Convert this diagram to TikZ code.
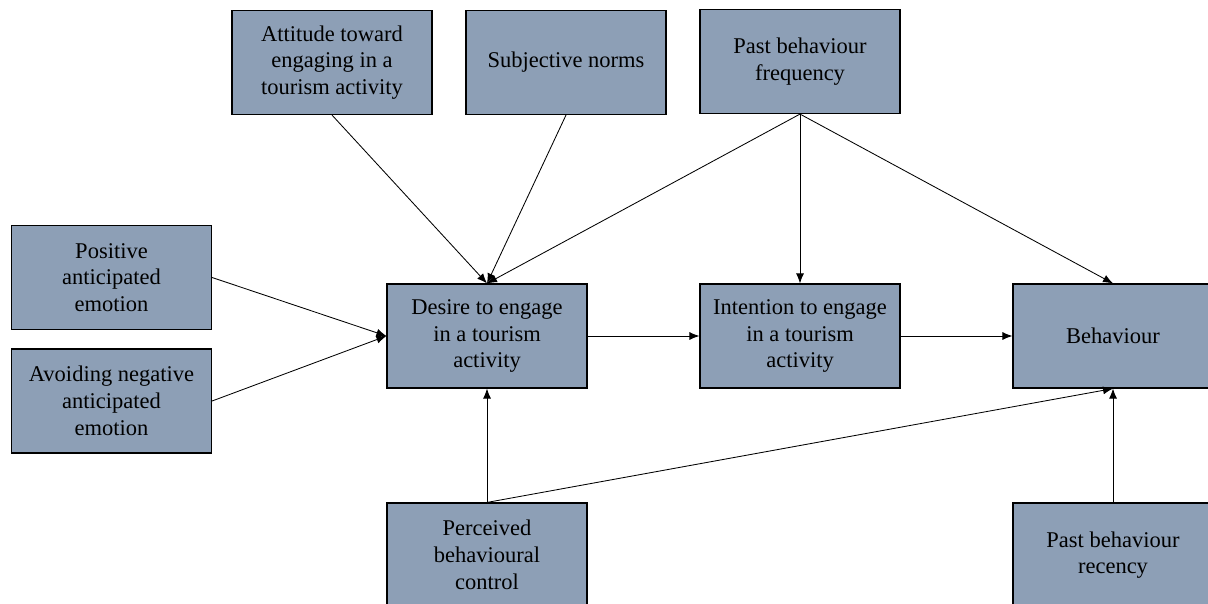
\documentclass[tikz,border=0pt]{standalone}
\usepackage{fontspec}
\setmainfont{Liberation Serif}
\usetikzlibrary{arrows.meta}
\definecolor{boxfill}{RGB}{141,159,182}

\begin{document}
\begin{tikzpicture}[x=0.025cm,y=-0.025cm,
	box/.style={draw=black,line width=0.8pt,fill=boxfill,minimum width=5cm,minimum height=2.6cm,align=center,font=\fontsize{16}{19}\selectfont},
	arr/.style={line width=0.6pt,-{Latex[length=2.5mm,width=2mm]}}]
	\clip (0,0) rectangle (1208,604);
	\node[box] (attitude) at (332,62.5) {Attitude toward\\engaging in a\\tourism activity};
	\node[box] (norms) at (566,62.5) {Subjective norms};
	\node[box] (freq) at (800,61.5) {Past behaviour\\frequency};
	\node[box] (positive) at (111.5,277.5) {Positive\\anticipated\\emotion};
	\node[box] (negative) at (111.5,401) {Avoiding negative\\anticipated\\emotion};
	\node[box] (desire) at (487,336) {Desire to engage\\in a tourism\\activity};
	\node[box] (intention) at (800,336) {Intention to engage\\in a tourism\\activity};
	\node[box] (behaviour) at (1113,336) {Behaviour};
	\node[box] (control) at (487,555) {Perceived\\behavioural\\control};
	\node[box] (recency) at (1113,555) {Past behaviour\\recency};
	\draw[arr] (attitude.south) -- (desire.north);
	\draw[arr] (norms.south) -- (desire.north);
	\draw[arr] (freq.south) -- (desire.north);
	\draw[arr] (freq.south) -- (intention.north);
	\draw[arr] (freq.south) -- (behaviour.north);
	\draw[arr] (positive.east) -- (desire.west);
	\draw[arr] (negative.east) -- (desire.west);
	\draw[arr] (desire.east) -- (intention.west);
	\draw[arr] (intention.east) -- (behaviour.west);
	\draw[arr] (control.north) -- (desire.south);
	\draw[arr] (control.north) -- (behaviour.south);
	\draw[arr] (recency.north) -- (behaviour.south);
\end{tikzpicture}
\end{document}
